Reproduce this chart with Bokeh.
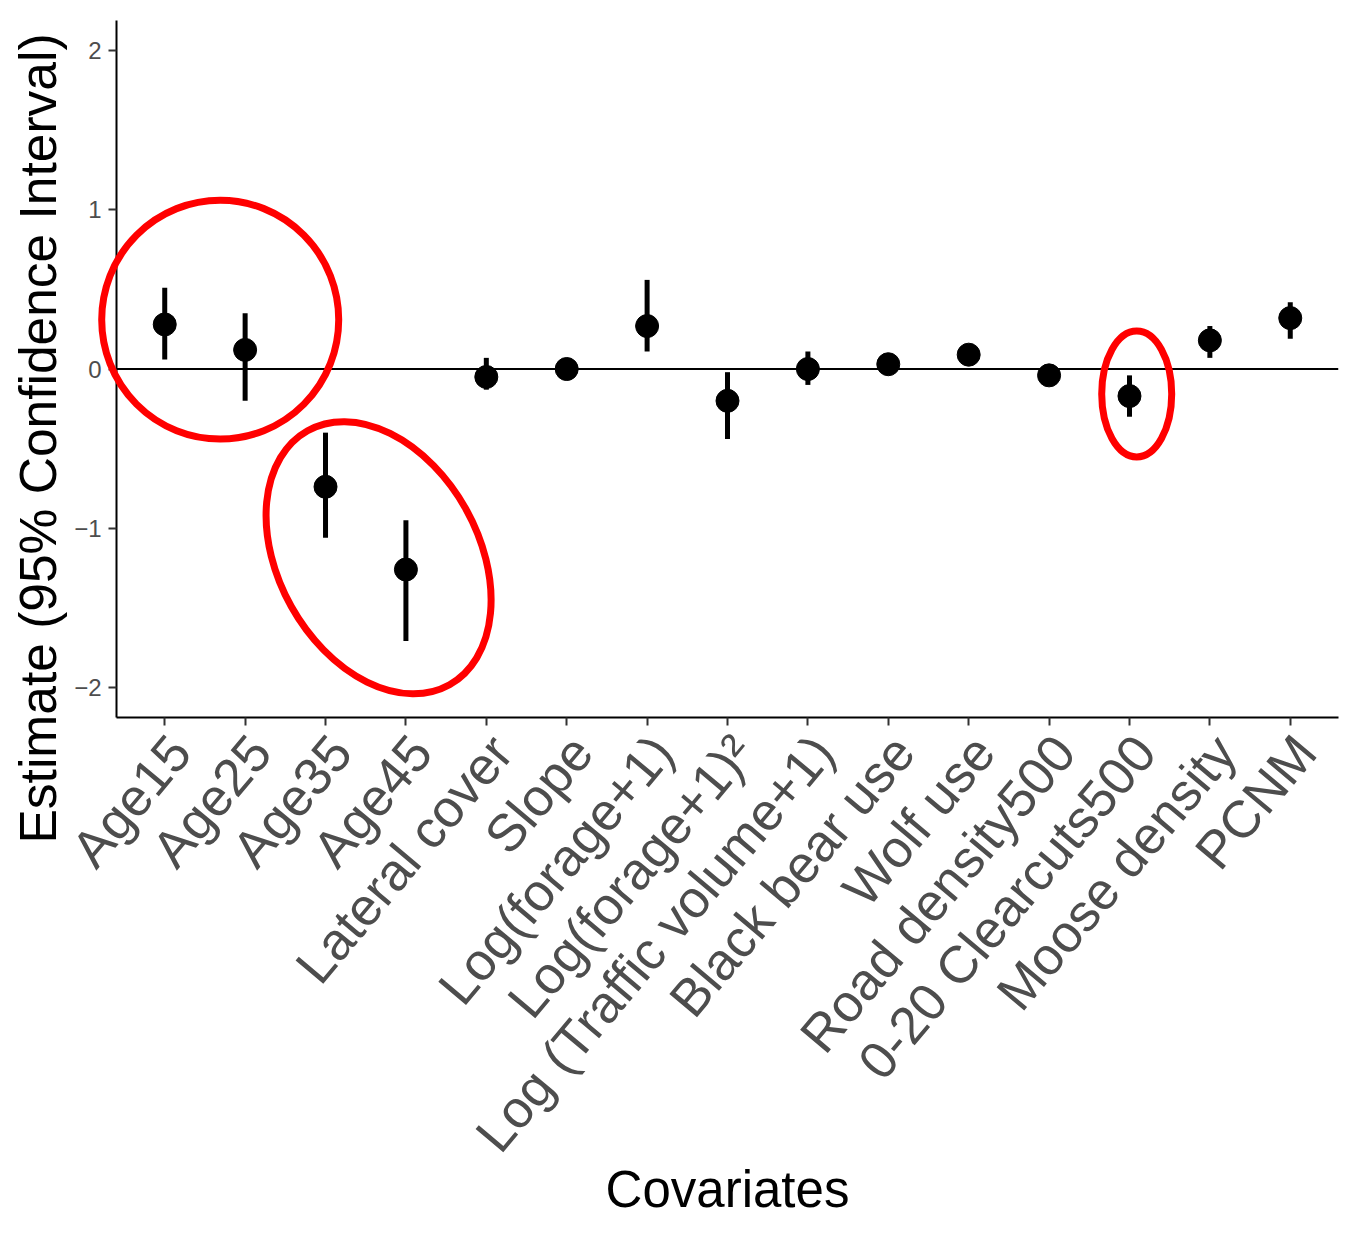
import math
from bokeh.plotting import figure
from bokeh.models import (FactorRange, Range1d, ColumnDataSource, Span, Title,
                          FixedTicker)
from bokeh.core.properties import value
from bokeh.embed import file_html
from bokeh.resources import INLINE

# ---- data ----
covariates = ["Age15", "Age25", "Age35", "Age45", "Lateral cover", "Slope",
              "Log(forage+1)", "Log(forage+1)²", "Log (Traffic volume+1)",
              "Black bear use", "Wolf use", "Road density500",
              "0-20 Clearcuts500", "Moose density", "PCNM"]
estimate = [0.28, 0.12, -0.74, -1.26, -0.05, 0.00, 0.27, -0.20, 0.00,
            0.03, 0.09, -0.04, -0.17, 0.18, 0.32]
ci_low = [0.06, -0.20, -1.06, -1.71, -0.13, -0.03, 0.11, -0.44, -0.10,
          0.00, 0.06, -0.08, -0.30, 0.07, 0.19]
ci_high = [0.51, 0.35, -0.40, -0.95, 0.07, 0.03, 0.56, -0.02, 0.11,
           0.07, 0.12, 0.00, -0.04, 0.27, 0.42]
y_ticks = [-2, -1, 0, 1, 2]

# highlight ellipses (hand-drawn annotation in the reference)
hl_x = [("Age15", 0.69), ("Age35", 0.66), ("0-20 Clearcuts500", 0.09)]
hl_y = [0.31, -1.186, -0.157]          # centre, data units
hl_w = [237, 291, 70]                  # full width, px
hl_h = [239, 200, 126]                 # full height, px
hl_angle = [0.0, -60.8, 0.0]           # degrees

FONT = "Liberation Sans"
Y_MIN, Y_MAX = -2.19, 2.19

src = ColumnDataSource(dict(cov=covariates, est=estimate, lo=ci_low, hi=ci_high,
                            base=[Y_MIN] * len(covariates)))

p = figure(x_range=FactorRange(factors=covariates, range_padding=0.1,
                               range_padding_units="absolute"),
           y_range=Range1d(Y_MIN, Y_MAX),
           width=1340, height=1233,
           output_backend="svg", toolbar_location=None,
           min_border_left=116, min_border_right=2,
           min_border_top=20, min_border_bottom=516)

p.outline_line_color = None
p.xgrid.grid_line_color = None
p.ygrid.grid_line_color = None

p.add_layout(Span(location=0, dimension="width", line_color="black", line_width=2))

p.segment(x0="cov", y0="lo", x1="cov", y1="hi", source=src,
          line_color="black", line_width=5)
p.scatter(x="cov", y="est", source=src, size=23, color="black")

hl_src = ColumnDataSource(dict(x=hl_x, y=hl_y, w=hl_w, h=hl_h,
                               a=[math.radians(v) for v in hl_angle]))
p.ellipse(x="x", y="y", width="w", height="h", angle="a", source=hl_src,
          width_units="screen", height_units="screen", level="overlay",
          fill_color=None, line_color="#ff0000", line_width=7)

# axes
for ax in (p.xaxis[0], p.yaxis[0]):
    ax.axis_line_color = "black"
    ax.axis_line_width = 2
    ax.major_tick_line_color = "#333333"
    ax.major_tick_line_width = 2
    ax.major_tick_in = 0
    ax.major_tick_out = 8
    ax.minor_tick_line_color = None
    ax.major_label_text_font = FONT
    ax.major_label_text_color = "#4d4d4d"

p.yaxis.ticker = FixedTicker(ticks=y_ticks)
p.yaxis.major_label_text_font_size = "24px"
p.yaxis.major_label_standoff = 7

# x tick labels: the axis' own ones are hidden and drawn rotated below each tick
p.xaxis.major_label_text_color = None
p.xaxis.major_label_text_font_size = "11px"
p.xaxis.major_label_standoff = 0
p.text(x="cov", y="base", text="cov", source=src, level="overlay",
       angle=math.radians(50), x_offset=15, y_offset=25,
       text_align="right", text_baseline="alphabetic",
       text_font=value(FONT), text_font_size="52.5px", text_color="#4d4d4d")

p.xaxis.axis_label = "Covariates"
p.xaxis.axis_label_text_font = FONT
p.xaxis.axis_label_text_font_size = "51px"
p.xaxis.axis_label_text_font_style = "normal"
p.xaxis.axis_label_text_color = "black"
p.xaxis.axis_label_standoff = 435

# y-axis title, sitting lower than the frame centre as in the reference
p.add_layout(Title(text="Estimate (95% Confidence Interval)", align="left",
                   vertical_align="top", offset=-126, standoff=6,
                   text_font=FONT, text_font_size="51.5px",
                   text_font_style="normal", text_color="black"), "left")

open("out.html", "w").write(file_html(p, INLINE))
